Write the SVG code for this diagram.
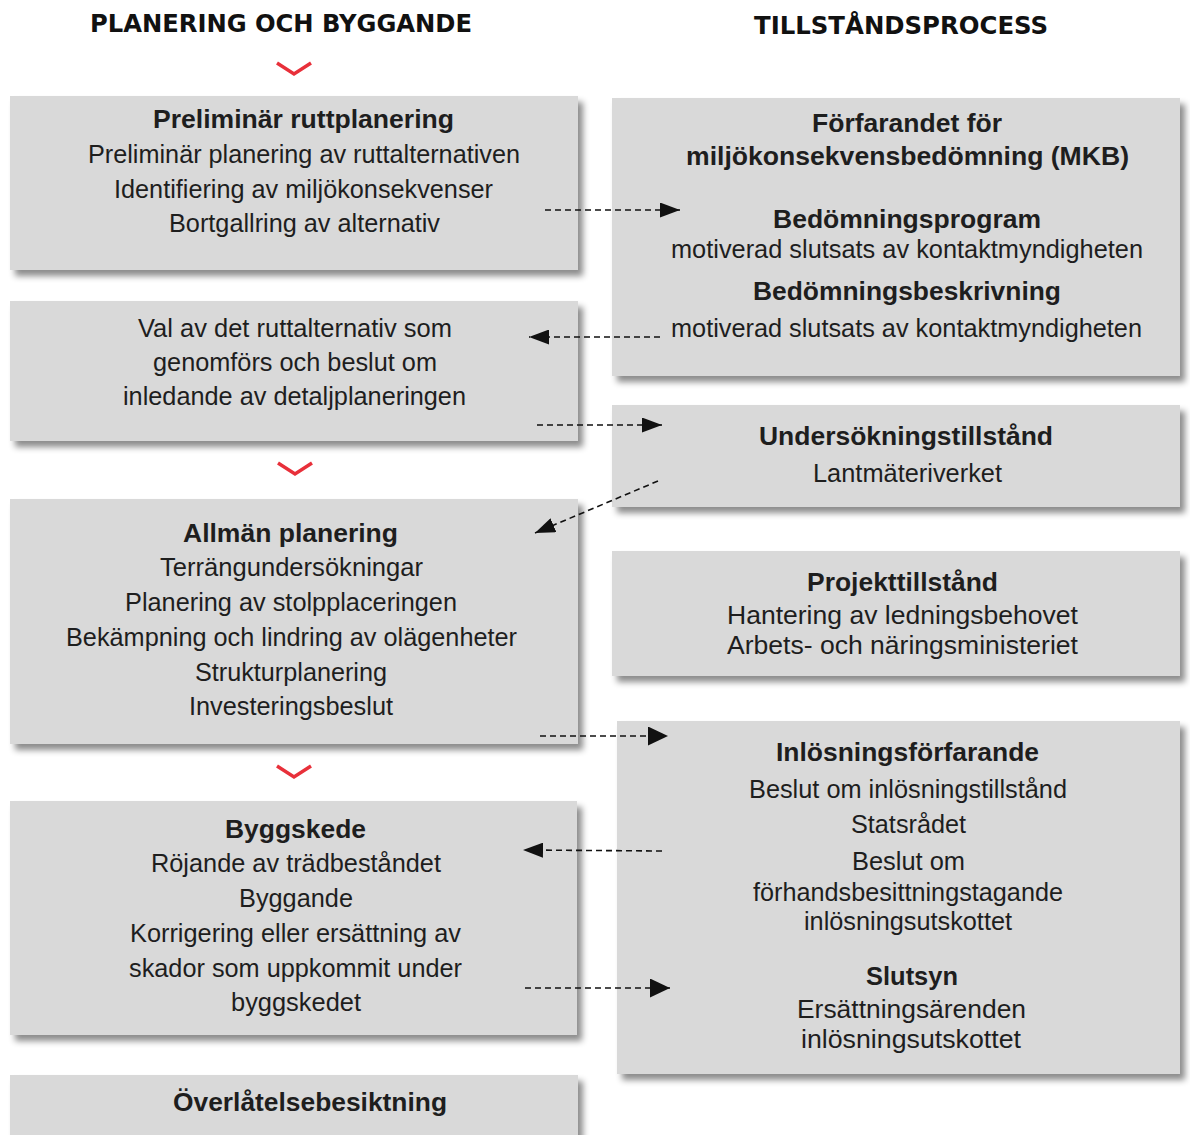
<svg xmlns="http://www.w3.org/2000/svg" width="1190" height="1135" viewBox="0 0 1190 1135">
<style>
.box{fill:#d9d9d9;filter:url(#sh)}
.t{font-family:"Liberation Sans",Arial,sans-serif;font-size:25px;fill:#1e1e1e;text-anchor:middle}
.b{font-weight:bold}
.h{font-family:"DejaVu Sans Condensed","DejaVu Sans",sans-serif;font-weight:bold;font-size:24px;fill:#111;text-anchor:middle}
.chev{fill:none;stroke:#e8303a;stroke-width:3.5}
.c{fill:none;stroke:#111;stroke-width:1.6;stroke-dasharray:6 4}
</style>
<defs>
<filter id="sh" x="-5%" y="-10%" width="115%" height="130%">
<feDropShadow dx="5" dy="6" stdDeviation="3" flood-color="#000" flood-opacity="0.45"/>
</filter>
<marker id="ah" viewBox="0 0 10 10" refX="10" refY="5" markerWidth="20" markerHeight="15" markerUnits="userSpaceOnUse" orient="auto" preserveAspectRatio="none">
<path d="M0,0 L10,5 L0,10 z" fill="#111"/>
</marker>
<marker id="ah2" viewBox="0 0 10 10" refX="10" refY="5" markerWidth="20" markerHeight="19" markerUnits="userSpaceOnUse" orient="auto" preserveAspectRatio="none">
<path d="M0,0 L10,5 L0,10 z" fill="#111"/>
</marker>
</defs>
<rect width="1190" height="1135" fill="#fff"/>
<text class="h" x="281" y="32" textLength="382" lengthAdjust="spacingAndGlyphs">PLANERING OCH BYGGANDE</text>
<text class="h" x="901" y="34" textLength="294" lengthAdjust="spacingAndGlyphs">TILLSTÅNDSPROCESS</text>
<g id="chevrons">
<polyline class="chev" points="277,63 294,74 311,63"/>
<polyline class="chev" points="278,463 295,474 312,463"/>
<polyline class="chev" points="277,766 294,777 311,766"/>
</g>
<g id="n1"><rect class="box" x="10" y="96" width="568" height="174"/>
<text class="t b" x="303.5" y="128" textLength="301" lengthAdjust="spacingAndGlyphs">Preliminär ruttplanering</text>
<text class="t" x="304" y="163" textLength="432" lengthAdjust="spacingAndGlyphs">Preliminär planering av ruttalternativen</text>
<text class="t" x="303.5" y="198" textLength="379" lengthAdjust="spacingAndGlyphs">Identifiering av miljökonsekvenser</text>
<text class="t" x="304.5" y="232" textLength="271" lengthAdjust="spacingAndGlyphs">Bortgallring av alternativ</text></g>
<g id="n2"><rect class="box" x="10" y="301" width="568" height="140"/>
<text class="t" x="295" y="337" textLength="314" lengthAdjust="spacingAndGlyphs">Val av det ruttalternativ som</text>
<text class="t" x="295" y="371" textLength="284" lengthAdjust="spacingAndGlyphs">genomförs och beslut om</text>
<text class="t" x="294.5" y="405" textLength="343" lengthAdjust="spacingAndGlyphs">inledande av detaljplaneringen</text></g>
<g id="n3"><rect class="box" x="10" y="499" width="568" height="245"/>
<text class="t b" x="290.5" y="542" textLength="215" lengthAdjust="spacingAndGlyphs">Allmän planering</text>
<text class="t" x="291.5" y="576" textLength="263" lengthAdjust="spacingAndGlyphs">Terrängundersökningar</text>
<text class="t" x="291" y="611" textLength="332" lengthAdjust="spacingAndGlyphs">Planering av stolpplaceringen</text>
<text class="t" x="291.5" y="646" textLength="451" lengthAdjust="spacingAndGlyphs">Bekämpning och lindring av olägenheter</text>
<text class="t" x="291" y="681" textLength="192" lengthAdjust="spacingAndGlyphs">Strukturplanering</text>
<text class="t" x="291" y="715" textLength="204" lengthAdjust="spacingAndGlyphs">Investeringsbeslut</text></g>
<g id="n4"><rect class="box" x="10" y="801" width="567" height="234"/>
<text class="t b" x="295.5" y="838" textLength="141" lengthAdjust="spacingAndGlyphs">Byggskede</text>
<text class="t" x="296" y="872" textLength="290" lengthAdjust="spacingAndGlyphs">Röjande av trädbeståndet</text>
<text class="t" x="296" y="907" textLength="114" lengthAdjust="spacingAndGlyphs">Byggande</text>
<text class="t" x="295.5" y="942" textLength="331" lengthAdjust="spacingAndGlyphs">Korrigering eller ersättning av</text>
<text class="t" x="295.5" y="977" textLength="333" lengthAdjust="spacingAndGlyphs">skador som uppkommit under</text>
<text class="t" x="296" y="1011" textLength="130" lengthAdjust="spacingAndGlyphs">byggskedet</text></g>
<g id="n5"><rect class="box" x="10" y="1075" width="568" height="70"/>
<text class="t b" x="310" y="1111" textLength="274" lengthAdjust="spacingAndGlyphs">Överlåtelsebesiktning</text></g>
<g id="r1"><rect class="box" x="612" y="98" width="568" height="278"/>
<text class="t b" x="907" y="132" textLength="190" lengthAdjust="spacingAndGlyphs">Förfarandet för</text>
<text class="t b" x="907.5" y="165" textLength="443" lengthAdjust="spacingAndGlyphs">miljökonsekvensbedömning (MKB)</text>
<text class="t b" x="907" y="228" textLength="268" lengthAdjust="spacingAndGlyphs">Bedömningsprogram</text>
<text class="t" x="907" y="258" textLength="472" lengthAdjust="spacingAndGlyphs">motiverad slutsats av kontaktmyndigheten</text>
<text class="t b" x="907" y="300" textLength="308" lengthAdjust="spacingAndGlyphs">Bedömningsbeskrivning</text>
<text class="t" x="906.5" y="337" textLength="471" lengthAdjust="spacingAndGlyphs">motiverad slutsats av kontaktmyndigheten</text></g>
<g id="r2"><rect class="box" x="612" y="405" width="568" height="102"/>
<text class="t b" x="906" y="445" textLength="294" lengthAdjust="spacingAndGlyphs">Undersökningstillstånd</text>
<text class="t" x="907.5" y="482" textLength="189" lengthAdjust="spacingAndGlyphs">Lantmäteriverket</text></g>
<g id="r3"><rect class="box" x="612" y="551" width="568" height="125"/>
<text class="t b" x="902.5" y="591" textLength="191" lengthAdjust="spacingAndGlyphs">Projekttillstånd</text>
<text class="t" x="902.5" y="624" textLength="351" lengthAdjust="spacingAndGlyphs">Hantering av ledningsbehovet</text>
<text class="t" x="902.5" y="654" textLength="351" lengthAdjust="spacingAndGlyphs">Arbets- och näringsministeriet</text></g>
<g id="r4"><rect class="box" x="617" y="721" width="563" height="353"/>
<text class="t b" x="907.5" y="761" textLength="263" lengthAdjust="spacingAndGlyphs">Inlösningsförfarande</text>
<text class="t" x="908" y="798" textLength="318" lengthAdjust="spacingAndGlyphs">Beslut om inlösningstillstånd</text>
<text class="t" x="908.5" y="833" textLength="115" lengthAdjust="spacingAndGlyphs">Statsrådet</text>
<text class="t" x="908.5" y="870" textLength="113" lengthAdjust="spacingAndGlyphs">Beslut om</text>
<text class="t" x="908" y="901" textLength="310" lengthAdjust="spacingAndGlyphs">förhandsbesittningstagande</text>
<text class="t" x="908" y="930" textLength="208" lengthAdjust="spacingAndGlyphs">inlösningsutskottet</text>
<text class="t b" x="912" y="985" textLength="92" lengthAdjust="spacingAndGlyphs">Slutsyn</text>
<text class="t" x="911.5" y="1018" textLength="229" lengthAdjust="spacingAndGlyphs">Ersättningsärenden</text>
<text class="t" x="911" y="1048" textLength="220" lengthAdjust="spacingAndGlyphs">inlösningsutskottet</text></g>
<g id="connectors">
<line class="c" x1="545" y1="210" x2="680" y2="210" marker-end="url(#ah)"/>
<line class="c" x1="660" y1="337" x2="529" y2="337" marker-end="url(#ah)"/>
<line class="c" x1="537" y1="425" x2="662" y2="425" marker-end="url(#ah)"/>
<line class="c" x1="658" y1="481" x2="535" y2="533" marker-end="url(#ah)"/>
<line class="c" x1="540" y1="736" x2="668" y2="736" marker-end="url(#ah2)"/>
<line class="c" x1="662" y1="851" x2="523" y2="850" marker-end="url(#ah)"/>
<line class="c" x1="525" y1="988" x2="670" y2="988" marker-end="url(#ah2)"/>
</g>
</svg>
